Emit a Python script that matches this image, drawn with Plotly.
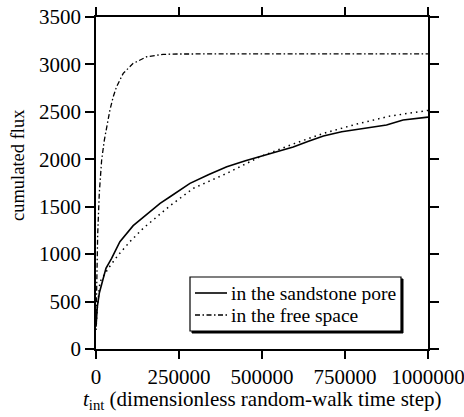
import plotly.graph_objects as go

# Sandstone pore (solid)
t_pore = [0, 4000, 10000, 17000, 30000, 47000, 72000, 112000, 163000, 193000, 223000, 283000,
          340000, 394000, 450000, 494000, 550000, 594000, 640000, 685000, 740000, 785000,
          830000, 875000, 925000, 960000, 1000000]
flux_pore = [235, 446, 590, 692, 850, 956, 1131, 1300, 1447, 1536, 1605, 1746,
             1840, 1922, 1985, 2030, 2090, 2130, 2190, 2245, 2290, 2316,
             2340, 2361, 2414, 2430, 2445]

# Fit / reference curve (dotted, no legend entry)
t_fit = [0, 1000, 3000, 12000, 37000, 67000, 102000, 142000, 183000, 223000, 293000,
         394000, 494000, 599000, 685000, 785000, 886000, 986000, 1000000]
flux_fit = [200, 250, 400, 709, 850, 991, 1131, 1272, 1394, 1510, 1694,
            1852, 2027, 2168, 2273, 2371, 2456, 2508, 2515]

# Free space (dash-dot)
t_free = [0, 2000, 5000, 10000, 17000, 25000, 32000, 42000, 52000, 62000, 82000, 112000,
          153000, 202000, 250000, 400000, 600000, 800000, 1000000]
flux_free = [250, 700, 1200, 1650, 1990, 2200, 2330, 2520, 2660, 2765, 2906, 3011,
             3081, 3106, 3110, 3112, 3112, 3112, 3112]

x_ticks = [0, 250000, 500000, 750000, 1000000]
y_ticks = [0, 500, 1000, 1500, 2000, 2500, 3000, 3500]

legend_labels = ["in the sandstone pore", "in the free space"]

FONT = "Liberation Serif, Times New Roman, DejaVu Serif, serif"
SOLID = dict(color="black", width=1.6)
DASHDOT = dict(color="black", width=1.3, dash="5px,2.5px,1.5px,2.5px")
DOT = dict(color="black", width=1.5, dash="1.5px,4px")

fig = go.Figure()
fig.add_trace(go.Scatter(x=t_pore, y=flux_pore, mode="lines", name=legend_labels[0],
                         line=SOLID, showlegend=False))
fig.add_trace(go.Scatter(x=t_free, y=flux_free, mode="lines", name=legend_labels[1],
                         line=DASHDOT, showlegend=False))
fig.add_trace(go.Scatter(x=t_fit, y=flux_fit, mode="lines", showlegend=False, line=DOT))

axis_common = dict(showline=True, linecolor="black", linewidth=1.5, mirror="ticks",
                   ticks="outside", tickwidth=1.5, tickcolor="black",
                   showgrid=False, zeroline=False, ticklabeloverflow="allow",
                   automargin=False,
                   tickfont=dict(family=FONT, size=21, color="black"))

fig.update_xaxes(range=[0, 1000000], tickvals=x_ticks, ticktext=[str(v) for v in x_ticks],
                 ticklen=8, **axis_common)
fig.update_yaxes(range=[0, 3500], tickvals=y_ticks, ticktext=[str(v) for v in y_ticks],
                 ticklen=9, **axis_common)

# Manual geometry helpers (plot area: x 96..428, y 17..349 px)
def px(x):
    return (x - 96) / 332.0

def py(y):
    return (349 - y) / 332.0

fig.add_annotation(text="<i>t</i><sub>int</sub> (dimensionless random-walk time step)",
                   xref="paper", yref="paper", x=0.5, y=py(400), xanchor="center", yanchor="middle",
                   showarrow=False, font=dict(family=FONT, size=21, color="black"))
fig.add_annotation(text="cumulated flux", textangle=-90,
                   xref="paper", yref="paper", x=px(18), y=py(165), xanchor="center", yanchor="middle",
                   showarrow=False, font=dict(family=FONT, size=18.5, color="black"))

# Manual legend: shadow + box
fig.add_shape(type="rect", xref="paper", yref="paper", x0=px(192), x1=px(403), y0=py(333), y1=py(279),
              line=dict(color="black", width=1), fillcolor="black", layer="above")
fig.add_shape(type="rect", xref="paper", yref="paper", x0=px(190), x1=px(401), y0=py(331), y1=py(277),
              line=dict(color="black", width=1.2), fillcolor="white", layer="above")
for i, (lab, ln) in enumerate(zip(legend_labels, [SOLID, DASHDOT])):
    yy = 293 + 22 * i
    fig.add_shape(type="line", xref="paper", yref="paper", x0=px(195), x1=px(227), y0=py(yy), y1=py(yy),
                  line=ln, layer="above")
    fig.add_annotation(text=lab, xref="paper", yref="paper", x=px(229), y=py(yy),
                       xanchor="left", yanchor="middle", showarrow=False,
                       font=dict(family=FONT, size=19.5, color="black"))

fig.update_layout(
    width=464, height=417,
    margin=dict(l=96, r=36, t=17, b=68),
    paper_bgcolor="white", plot_bgcolor="white",
    font=dict(family=FONT, size=21, color="black"),
    showlegend=False,
)

fig.write_html("out.html")
